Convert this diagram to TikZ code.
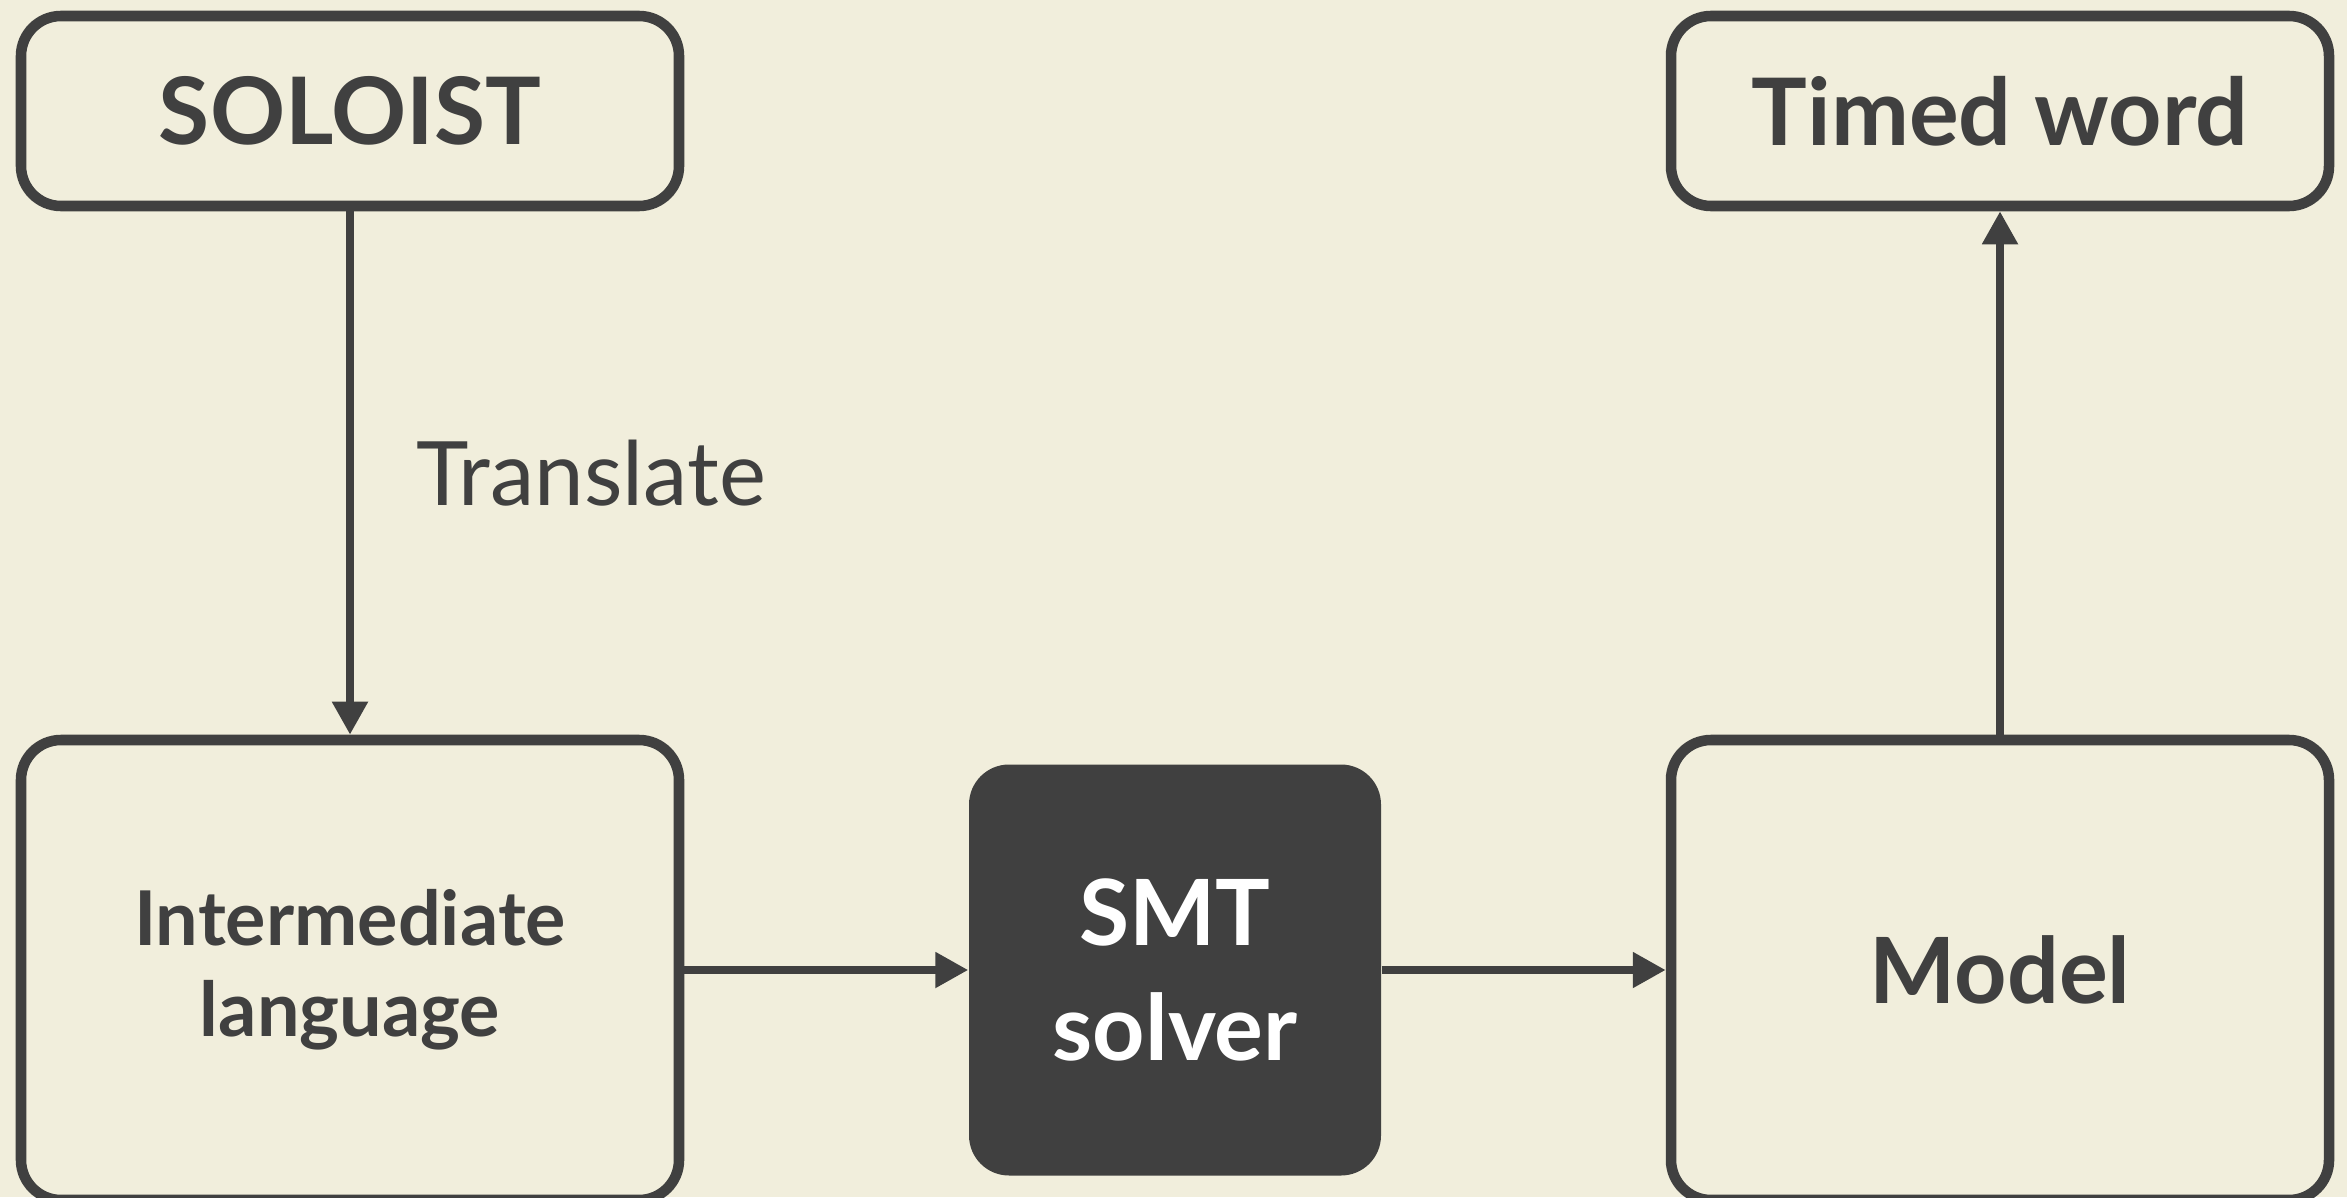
\documentclass[tikz,border=0pt]{standalone}
\usepackage{fontspec}
\setmainfont{Lato}
\usepackage{tikz}
\usetikzlibrary{positioning,arrows.meta,calc,shapes}
\definecolor{bgcream}{HTML}{F1EEDC}
\definecolor{ink}{HTML}{404040}

\begin{document}
\begin{tikzpicture}[>={Triangle[length=0.33cm,width=0.34cm]},
  blk/.style={draw=ink,line width=3pt,rounded corners=0.4cm,fill=bgcream,text=ink,minimum width=6.58cm,align=center,font=\fontsize{26.5}{32}\selectfont\bfseries},
  solverbox/.style={fill=ink,rounded corners=0.4cm,text=white,minimum width=4.12cm,minimum height=4.11cm,align=center,font=\fontsize{26}{32.7}\selectfont\bfseries},
  conn/.style={->,draw=ink,fill=ink,line width=2.3pt}]
  \fill[bgcream] (0,0) rectangle (23.47,11.97);
  \useasboundingbox (0,0) rectangle (23.47,11.97);

  \node[blk,minimum height=1.9cm] (soloist) at (3.5,10.86) {SOLOIST};
  \node[blk,minimum height=1.9cm] (timed) at (20,10.86) {Timed word};
  \node[blk,minimum height=4.6cm,font=\fontsize{21.5}{25.9}\selectfont\bfseries] (inter) at (3.5,2.27) {Intermediate\\language};
  \node[solverbox] (smt) at (11.75,2.27) {SMT\\solver};
  \node[blk,minimum height=4.6cm,font=\fontsize{26}{32}\selectfont\bfseries] (model) at (20,2.27) {Model};

  \draw[conn] (soloist) -- node[midway,anchor=west,xshift=0.62cm,inner sep=0,text=ink,font=\fontsize{25.3}{32}\selectfont] (trans) {Translate} (inter);
  \draw[conn] (inter) -- (smt);
  \draw[conn] (smt) -- (model);
  \draw[conn] (model) -- (timed);
\end{tikzpicture}
\end{document}
